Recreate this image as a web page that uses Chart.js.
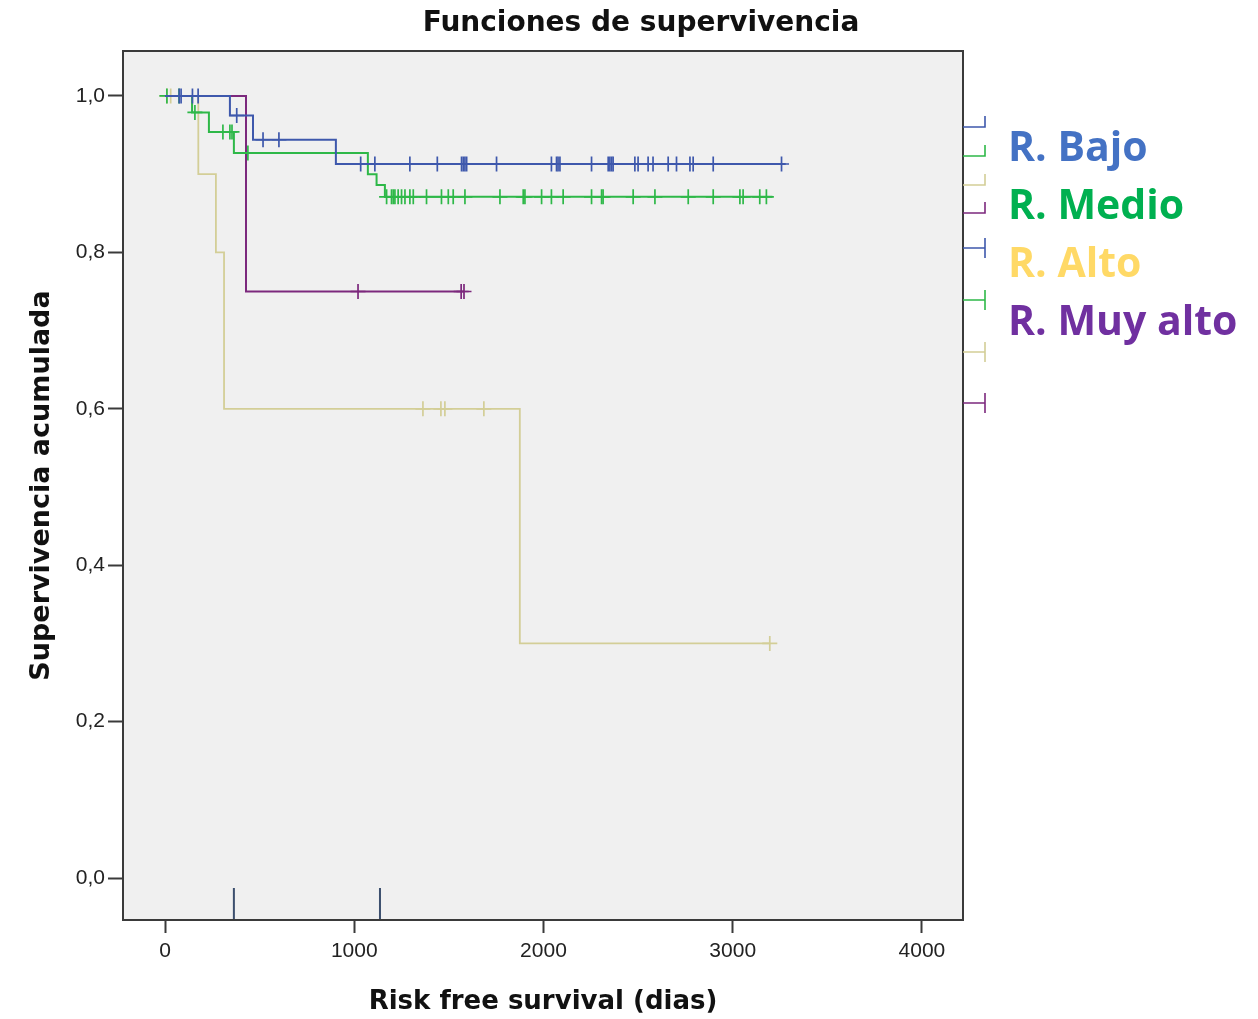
<!DOCTYPE html>
<html>
<head>
<meta charset="utf-8">
<script src="https://cdn.jsdelivr.net/npm/chart.js@4/dist/chart.umd.min.js"></script>
<style>
  html, body { margin: 0; padding: 0; background: #fff; }
  #wrap { width: 1258px; height: 1019px; }
</style>
</head>
<body>
<div id="wrap"><canvas id="grafico" width="1258" height="1019"></canvas></div>
<script>
// Datos (tiempo en días, supervivencia acumulada)
const ticksX = [0, 1000, 2000, 3000, 4000];
const ticksY = [0, 0.2, 0.4, 0.6, 0.8, 1.0];

const bajoTiempos = [0, 343, 465, 903, 3280];
const bajoSuperv = [1, 0.975, 0.944, 0.913, 0.913];
const bajoCensura = [75, 85, 145, 175, 379, 518, 602, 1034, 1109, 1294, 1439, 1567, 1576, 1585, 1594, 1752,
    2042, 2069, 2077, 2087, 2254, 2342, 2351, 2360, 2368, 2483, 2500, 2553, 2579, 2659, 2703, 2774, 2791, 2897, 3258];

const medioTiempos = [0, 143, 232, 364, 1072, 1118, 1162, 3210];
const medioSuperv = [1, 0.979, 0.954, 0.927, 0.900, 0.886, 0.871, 0.871];
const medioCensura = [10, 74, 158, 306, 343, 354, 438, 1171, 1197, 1206, 1215, 1232, 1250, 1268, 1294, 1312, 1382,
    1461, 1497, 1523, 1585, 1770, 1893, 1902, 1990, 2042, 2104, 2254, 2307, 2315, 2474, 2589, 2765, 2897,
    3038, 3055, 3143, 3178];

const altoTiempos = [0, 176, 269, 312, 1875, 3196];
const altoSuperv = [1, 0.9, 0.8, 0.6, 0.3, 0.3];
const altoCensura = [10, 30, 1363, 1458, 1479, 1685, 3196];

const muyAltoTiempos = [0, 428, 1580];
const muyAltoSuperv = [1, 0.75, 0.75];
const muyAltoCensura = [1020, 1565, 1580];

// marcas verticales sueltas en la parte inferior
const marcasInferiores = [364, 1136];

const grupos = ['R. Bajo', 'R. Medio', 'R. Alto', 'R. Muy alto'];
const coloresLinea = ['#3E58AC', '#2EB848', '#D3CE97', '#7C287D'];
const coloresTexto = ['#4472C4', '#00B050', '#FFD966', '#7030A0'];

const titulo = 'Funciones de supervivencia';

const supervEn = (tiempos, superv, t) => {
    let s = superv[0];
    for (let i = 0; i < tiempos.length; i++) {
        if (tiempos[i] <= t) s = superv[i];
    }
    return s;
};

const curva = (tiempos, superv, color, ancho) => ({
    data: tiempos.map((t, i) => ({ x: t, y: superv[i] })),
    showLine: true,
    stepped: true,
    borderColor: color,
    borderWidth: ancho,
    pointRadius: 0,
    fill: false,
});

const censuras = (censura, tiempos, superv, color) => ({
    data: censura.map(t => ({ x: t, y: supervEn(tiempos, superv, t) })),
    showLine: false,
    pointStyle: 'cross',
    pointRadius: 7.5,
    borderColor: color,
    borderWidth: 1.7,
});

const datasets = [
    curva(bajoTiempos, bajoSuperv, coloresLinea[0], 2),
    censuras(bajoCensura, bajoTiempos, bajoSuperv, coloresLinea[0]),
    curva(medioTiempos, medioSuperv, coloresLinea[1], 2),
    censuras(medioCensura, medioTiempos, medioSuperv, coloresLinea[1]),
    curva(muyAltoTiempos, muyAltoSuperv, coloresLinea[3], 2),
    censuras(muyAltoCensura, muyAltoTiempos, muyAltoSuperv, coloresLinea[3]),
    curva(altoTiempos, altoSuperv, coloresLinea[2], 1.8),
    censuras(altoCensura, altoTiempos, altoSuperv, coloresLinea[2]),
];
marcasInferiores.forEach(t => {
    datasets.push({
        data: [{ x: t, y: -0.0128 }, { x: t, y: -0.06 }],
        showLine: true,
        borderColor: '#3C4F6E',
        borderWidth: 2,
        pointRadius: 0,
    });
});

// fondo gris del área, recuadro y título
const fondoArea = {
    id: 'fondoArea',
    beforeDatasetsDraw(chart) {
        const { ctx, chartArea: a } = chart;
        ctx.save();
        ctx.fillStyle = '#F0F0F0';
        ctx.fillRect(a.left, a.top, a.right - a.left, a.bottom - a.top);
        ctx.restore();
    },
    afterDraw(chart) {
        const { ctx, chartArea: a } = chart;
        ctx.save();
        ctx.strokeStyle = '#3a3a3a';
        ctx.lineWidth = 2;
        ctx.strokeRect(a.left, a.top, a.right - a.left, a.bottom - a.top);
        ctx.fillStyle = '#111';
        ctx.font = 'bold 28px "DejaVu Sans"';
        ctx.textAlign = 'center';
        ctx.textBaseline = 'middle';
        ctx.fillText(titulo, 641, 24);
        ctx.restore();
    }
};

// leyenda recortada a la derecha + etiquetas grandes
const leyenda = {
    id: 'leyenda',
    afterDraw(chart) {
        const { ctx, chartArea: a } = chart;
        const x0 = a.right, x1 = a.right + 22;
        ctx.save();
        const pasos = [127, 156, 185, 213];
        pasos.forEach((y, i) => {
            ctx.strokeStyle = coloresLinea[i];
            ctx.lineWidth = 1.6;
            ctx.beginPath();
            ctx.moveTo(x0, y);
            ctx.lineTo(x1, y);
            ctx.lineTo(x1, y - 11);
            ctx.stroke();
        });
        const cruces = [248, 300, 352, 403];
        cruces.forEach((y, i) => {
            ctx.strokeStyle = coloresLinea[i];
            ctx.lineWidth = 1.6;
            ctx.beginPath();
            ctx.moveTo(x0, y);
            ctx.lineTo(x1, y);
            ctx.moveTo(x1, y - 10);
            ctx.lineTo(x1, y + 10);
            ctx.stroke();
        });
        ctx.font = 'bold 41px "Open Sans"';
        ctx.textBaseline = 'alphabetic';
        ctx.textAlign = 'left';
        const bases = [161, 219, 277, 335];
        grupos.forEach((g, i) => {
            ctx.fillStyle = coloresTexto[i];
            ctx.fillText(g, 1008, bases[i]);
        });
        ctx.restore();
    }
};

const ctx = document.getElementById('grafico').getContext('2d');
const myChart = new Chart(ctx, {
    type: 'scatter',
    data: { datasets },
    options: {
        responsive: false,
        animation: false,
        layout: { padding: { left: 0, right: 295, top: 51, bottom: 0 } },
        plugins: {
            legend: { display: false },
            tooltip: { enabled: false },
            title: { display: false },
        },
        scales: {
            x: {
                type: 'linear',
                min: -222,
                max: 4217,
                afterFit: s => { s.height = 99; },
                afterBuildTicks: s => { s.ticks = ticksX.map(v => ({ value: v })); },
                ticks: {
                    color: '#222',
                    font: { family: 'Liberation Sans', size: 21 },
                    padding: 6,
                    callback: v => String(v),
                },
                grid: { display: true, drawOnChartArea: false, drawTicks: true, tickLength: 13, tickWidth: 2, tickColor: '#3a3a3a' },
                border: { display: true, color: '#3a3a3a', width: 2 },
                title: {
                    display: true,
                    text: 'Risk free survival (dias)',
                    color: '#111',
                    font: { family: 'DejaVu Sans', weight: 'bold', size: 26 },
                    padding: { top: 0, bottom: 1 },
                },
            },
            y: {
                type: 'linear',
                min: -0.0537,
                max: 1.0575,
                afterFit: s => { s.width = 123; },
                afterBuildTicks: s => { s.ticks = ticksY.map(v => ({ value: v })); },
                ticks: {
                    color: '#222',
                    font: { family: 'Liberation Sans', size: 21 },
                    padding: 3,
                    callback: v => v.toFixed(1).replace('.', ','),
                },
                grid: { display: true, drawOnChartArea: false, drawTicks: true, tickLength: 15, tickWidth: 2, tickColor: '#3a3a3a' },
                border: { display: true, color: '#3a3a3a', width: 2 },
                title: {
                    display: true,
                    text: 'Supervivencia acumulada',
                    color: '#111',
                    font: { family: 'DejaVu Sans', weight: 'bold', size: 27 },
                    padding: { top: 26, bottom: 0 },
                },
            },
        },
    },
    plugins: [fondoArea, leyenda],
});
</script>
</body>
</html>
